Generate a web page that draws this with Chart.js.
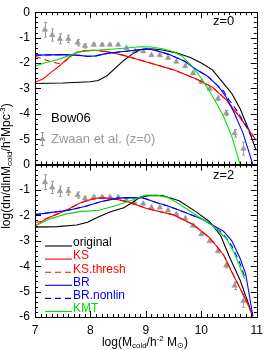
<!DOCTYPE html>
<html>
<head>
<meta charset="utf-8">
<script src="https://cdn.jsdelivr.net/npm/chart.js@4/dist/chart.umd.min.js"></script>
<style>
  html, body { margin: 0; padding: 0; background: #fff; }
  #himf { display: block; }
</style>
</head>
<body>
<canvas id="himf" width="269" height="350"></canvas>
<script>
'use strict';

// Zwaan et al. (2005) HIMF, same points shown in both panels
const zwaanLogM = [7.18, 7.31, 7.45, 7.60, 7.77, 7.90, 8.06, 8.21, 8.35, 8.50, 8.65, 8.80, 8.95,
    9.10, 9.25, 9.40, 9.55, 9.71, 9.85, 10.00, 10.15, 10.30, 10.45, 10.60, 10.76];
const zwaanLogPhi = [-0.69, -0.90, -1.05, -1.05, -1.20, -1.33, -1.28, -1.28, -1.28, -1.28, -1.41, -1.53, -1.54,
    -1.69, -1.69, -1.80, -1.95, -2.12, -2.40, -2.74, -3.01, -3.40, -3.97, -4.77, -5.37];
const zwaanErr = [0.29, 0.24, 0.20, 0.15, 0.12, 0.08, 0.05, 0.05, 0.04, 0.04, 0.04, 0.04, 0.04,
    0.04, 0.04, 0.04, 0.04, 0.05, 0.05, 0.05, 0.06, 0.07, 0.10, 0.15, 0.25];

// z=0 model curves [logM, log phi]
const z0Original = [[7.0, -2.81], [7.5, -2.79], [8.0, -2.74], [8.14, -2.69], [8.3, -2.5], [8.45, -2.2], [8.6, -1.9],
    [8.75, -1.65], [8.9, -1.48], [9.1, -1.44], [9.3, -1.49], [9.55, -1.6], [9.8, -1.78], [10.0, -2.0], [10.2, -2.27],
    [10.4, -2.8], [10.55, -3.2], [10.7, -3.8], [10.85, -4.6], [10.99, -5.45]];
const z0KS = [[7.0, -2.76], [7.15, -2.62], [7.3, -2.35], [7.45, -2.1], [7.6, -1.8], [7.75, -1.58], [7.9, -1.52],
    [8.05, -1.5], [8.3, -1.55], [8.6, -1.7], [9.0, -1.95], [9.5, -2.27], [9.9, -2.62], [10.2, -2.95], [10.45, -3.45],
    [10.7, -4.15], [10.99, -5.05]];
const z0KSThresh = [[7.0, -1.73], [7.15, -1.85], [7.3, -1.96], [7.45, -2.03], [7.55, -1.92], [7.62, -1.76],
    [7.75, -1.58], [7.9, -1.52], [8.05, -1.5], [8.3, -1.55], [8.6, -1.7], [9.0, -1.95], [9.5, -2.27], [9.9, -2.62],
    [10.2, -2.95], [10.45, -3.45], [10.7, -4.15], [10.99, -5.05]];
const z0BR = [[7.0, -1.69], [7.5, -1.67], [7.8, -1.7], [7.95, -1.74], [8.1, -1.72], [8.3, -1.62], [8.55, -1.56],
    [8.8, -1.5], [9.0, -1.44], [9.2, -1.52], [9.4, -1.65], [9.7, -1.93], [9.9, -2.25], [10.1, -2.5], [10.3, -2.9],
    [10.45, -3.35], [10.6, -4.0], [10.75, -4.75], [10.93, -6.0]];
const z0BRNonlin = [[7.0, -1.69], [7.5, -1.67], [7.8, -1.7], [7.95, -1.74], [8.1, -1.72], [8.3, -1.62], [8.55, -1.56],
    [8.8, -1.5], [9.0, -1.44], [9.2, -1.52], [9.4, -1.65], [9.7, -1.93], [9.9, -2.25], [10.1, -2.5], [10.25, -2.8],
    [10.4, -3.1], [10.5, -3.45], [10.65, -3.9], [10.8, -4.45], [10.95, -5.1]];
const z0KMT = [[7.0, -2.12], [7.2, -1.98], [7.4, -1.87], [7.6, -1.72], [7.8, -1.57], [8.0, -1.52], [8.3, -1.47],
    [8.6, -1.42], [8.9, -1.36], [9.1, -1.37], [9.3, -1.44], [9.5, -1.56], [9.65, -1.72], [9.8, -2.05], [10.0, -2.6],
    [10.2, -3.3], [10.4, -4.1], [10.55, -4.9], [10.7, -6.0]];

// z=2 model curves
const z2Original = [[7.0, -2.46], [7.4, -2.44], [7.75, -2.38], [7.95, -2.27], [8.15, -2.05], [8.35, -1.87],
    [8.6, -1.7], [8.75, -1.5], [8.9, -1.28], [9.05, -1.22], [9.3, -1.22], [9.6, -1.42], [9.9, -1.85], [10.15, -2.25],
    [10.35, -2.8], [10.5, -3.6], [10.7, -4.55], [10.93, -5.97]];
const z2KS = [[7.0, -2.42], [7.2, -2.13], [7.4, -1.95], [7.6, -1.76], [7.8, -1.52], [8.0, -1.38], [8.15, -1.31],
    [8.4, -1.33], [8.7, -1.48], [9.0, -1.72], [9.5, -1.98], [9.85, -2.36], [10.15, -2.88], [10.4, -3.55],
    [10.6, -4.45], [10.8, -5.3], [10.93, -5.97]];
const z2KSThresh = [[7.0, -2.28], [7.1, -2.24], [7.2, -2.13], [7.4, -1.95], [7.6, -1.76], [7.8, -1.52],
    [8.0, -1.38], [8.15, -1.31], [8.4, -1.33], [8.7, -1.48], [9.0, -1.72], [9.5, -1.98], [9.85, -2.36],
    [10.15, -2.88], [10.4, -3.55], [10.6, -4.45], [10.8, -5.3], [10.93, -5.97]];
const z2BR = [[7.0, -1.97], [7.3, -1.88], [7.6, -1.8], [7.9, -1.65], [8.2, -1.45], [8.5, -1.32], [8.7, -1.3],
    [8.95, -1.31], [9.2, -1.5], [9.4, -1.63], [9.7, -1.88], [10.0, -2.13], [10.2, -2.38], [10.4, -2.62],
    [10.55, -3.0], [10.7, -3.7], [10.8, -4.3], [10.93, -5.97]];
const z2BRNonlin = [[7.0, -1.97], [7.3, -1.88], [7.6, -1.8], [7.9, -1.65], [8.2, -1.45], [8.5, -1.32], [8.7, -1.3],
    [8.95, -1.31], [9.2, -1.5], [9.4, -1.63], [9.7, -1.88], [10.0, -2.13], [10.2, -2.38], [10.4, -2.75],
    [10.55, -3.2], [10.7, -3.9], [10.8, -4.55]];
const z2KMT = [[7.0, -2.42], [7.25, -2.15], [7.55, -1.95], [7.8, -1.85], [8.15, -1.8], [8.45, -1.62], [8.75, -1.4],
    [9.0, -1.2], [9.2, -1.2], [9.4, -1.3], [9.6, -1.55], [9.95, -2.05], [10.2, -2.4], [10.45, -2.9], [10.6, -3.5],
    [10.78, -4.5]];

const modelNames = ['original', 'KS', 'KS.thresh', 'BR', 'BR.nonlin', 'KMT'];
const modelColors = ['#000000', '#ff0000', '#ff0000', '#0000ff', '#0000ff', '#00e000'];
const modelDashes = [[], [], [6, 4], [], [6, 4], []];
const z0Models = [z0Original, z0KS, z0KSThresh, z0BR, z0BRNonlin, z0KMT];
const z2Models = [z2Original, z2KS, z2KSThresh, z2BR, z2BRNonlin, z2KMT];

const xTicks = [7, 8, 9, 10, 11];
const yTicks = [-6, -5, -4, -3, -2, -1, 0];

const zwaanGray = '#9a9a9a';
const fontFamily = '"Liberation Sans", Arial, Helvetica, sans-serif';

function toPoints(pairs) {
    return pairs.map(p => ({ x: p[0], y: p[1] }));
}

function modelDatasets(models, axisId) {
    return models.map((m, i) => ({
        label: modelNames[i],
        data: toPoints(m),
        yAxisID: axisId,
        borderColor: modelColors[i],
        borderWidth: 1.1,
        borderDash: modelDashes[i],
        pointRadius: 0,
        fill: false,
        tension: 0,
        order: 6 - i,
    }));
}

function zwaanDataset(axisId) {
    return {
        label: 'Zwaan',
        data: zwaanLogM.map((x, i) => ({ x: x, y: zwaanLogPhi[i] })),
        yAxisID: axisId,
        showLine: false,
        pointStyle: 'triangle',
        pointRadius: 3.2,
        pointBackgroundColor: zwaanGray,
        pointBorderColor: zwaanGray,
        pointBorderWidth: 0.5,
        order: 10,
    };
}

function drawRich(ctx, parts, cx, cy) {
    let total = 0;
    for (const p of parts) {
        ctx.font = p.size + 'px ' + fontFamily;
        p.w = ctx.measureText(p.text).width;
        total += p.w;
    }
    let x = cx - total / 2;
    ctx.textAlign = 'left';
    ctx.textBaseline = 'middle';
    for (const p of parts) {
        ctx.font = p.size + 'px ' + fontFamily;
        ctx.fillText(p.text, x, cy + (p.dy || 0));
        x += p.w;
    }
}

function drawErrorBars(ctx, xScale, yScale) {
    ctx.save();
    ctx.strokeStyle = zwaanGray;
    ctx.lineWidth = 1;
    for (let i = 0; i < zwaanLogM.length; i++) {
        const px = Math.round(xScale.getPixelForValue(zwaanLogM[i])) + 0.5;
        const y1 = yScale.getPixelForValue(zwaanLogPhi[i] + zwaanErr[i]);
        const y2 = yScale.getPixelForValue(zwaanLogPhi[i] - zwaanErr[i]);
        ctx.beginPath();
        ctx.moveTo(px, y1);
        ctx.lineTo(px, y2);
        ctx.moveTo(px - 1.5, y1);
        ctx.lineTo(px + 1.5, y1);
        ctx.moveTo(px - 1.5, y2);
        ctx.lineTo(px + 1.5, y2);
        ctx.stroke();
    }
    ctx.restore();
}

function drawPanelFrame(ctx, xScale, yScale) {
    const left = xScale.left, right = xScale.right;
    const top = yScale.top, bottom = yScale.bottom;
    ctx.save();
    ctx.strokeStyle = '#000';
    ctx.lineWidth = 1;
    ctx.strokeRect(Math.round(left) + 0.5, Math.round(top) + 0.5,
        Math.round(right - left), Math.round(bottom - top));
    ctx.beginPath();
    for (let i = 0; i <= 30; i++) {
        const v = -6 + i * 0.2;
        const major = i % 5 === 0;
        const len = major ? 6 : 3;
        const py = Math.round(yScale.getPixelForValue(v)) + 0.5;
        ctx.moveTo(left, py);
        ctx.lineTo(left + len, py);
        ctx.moveTo(right, py);
        ctx.lineTo(right - len, py);
    }
    for (let i = 0; i <= 40; i++) {
        const v = 7 + i * 0.1;
        const major = i % 10 === 0;
        const len = major ? 6 : 3;
        const px = Math.round(xScale.getPixelForValue(v)) + 0.5;
        ctx.moveTo(px, bottom);
        ctx.lineTo(px, bottom - len);
        ctx.moveTo(px, top);
        ctx.lineTo(px, top + len);
    }
    ctx.stroke();
    ctx.restore();
}

const panelDecor = {
    id: 'panelDecor',
    beforeDatasetsDraw(chart) {
        const ctx = chart.ctx;
        drawErrorBars(ctx, chart.scales.x, chart.scales.yTop);
        drawErrorBars(ctx, chart.scales.x, chart.scales.yBot);
    },
    afterDraw(chart) {
        const ctx = chart.ctx;
        const xs = chart.scales.x;
        const yTop = chart.scales.yTop;
        const yBot = chart.scales.yBot;
        drawPanelFrame(ctx, xs, yTop);
        drawPanelFrame(ctx, xs, yBot);

        ctx.save();
        ctx.fillStyle = '#000';
        ctx.textBaseline = 'middle';
        ctx.textAlign = 'left';
        ctx.font = '13px ' + fontFamily;
        ctx.fillText('z=0', 213, 21);
        ctx.fillText('z=2', 213, 175);
        ctx.fillText('Bow06', 51, 118);

        // Zwaan legend entry
        ctx.fillStyle = zwaanGray;
        ctx.fillText('Zwaan et al. (z=0)', 51, 139);
        ctx.strokeStyle = zwaanGray;
        ctx.beginPath();
        ctx.moveTo(42.5, 132);
        ctx.lineTo(42.5, 146);
        ctx.moveTo(41, 132.5);
        ctx.lineTo(44, 132.5);
        ctx.moveTo(41, 145.5);
        ctx.lineTo(44, 145.5);
        ctx.stroke();
        ctx.beginPath();
        ctx.moveTo(42.5, 135.5);
        ctx.lineTo(45.5, 141);
        ctx.lineTo(39.5, 141);
        ctx.closePath();
        ctx.fill();

        // model legend in lower panel
        ctx.font = '12px ' + fontFamily;
        for (let i = 0; i < modelNames.length; i++) {
            const ly = 246 + i * 13.1;
            ctx.strokeStyle = modelColors[i];
            ctx.fillStyle = modelColors[i];
            ctx.lineWidth = 1.1;
            ctx.setLineDash(modelDashes[i]);
            ctx.beginPath();
            ctx.moveTo(45, ly);
            ctx.lineTo(72, ly);
            ctx.stroke();
            ctx.setLineDash([]);
            ctx.fillText(modelNames[i], 73, ly - 3);
        }

        // axis titles
        ctx.fillStyle = '#000';
        drawRich(ctx, [
            { text: 'log(M', size: 12 },
            { text: 'cold', size: 8, dy: 3 },
            { text: '/h', size: 12 },
            { text: '-2', size: 8, dy: -4 },
            { text: ' M', size: 12 },
            { text: '\u2299', size: 8, dy: 3 },
            { text: ')', size: 12 },
        ], 145, 343);

        ctx.translate(7, 166);
        ctx.rotate(-Math.PI / 2);
        drawRich(ctx, [
            { text: 'log(dn/dlnM', size: 12 },
            { text: 'cold', size: 8, dy: 3 },
            { text: '/h', size: 12 },
            { text: '3', size: 8, dy: -4 },
            { text: 'Mpc', size: 12 },
            { text: '-3', size: 8, dy: -4 },
            { text: ')', size: 12 },
        ], 0, 0);
        ctx.restore();
    },
};

function yAxis(weight, hideBottom) {
    return {
        type: 'linear',
        position: 'left',
        stack: 'panels',
        weight: weight,
        min: -6,
        max: 0,
        grid: { display: false, drawTicks: false },
        border: { display: false },
        afterBuildTicks: scale => {
            scale.ticks = yTicks.filter(v => !(hideBottom && v === -6)).map(v => ({ value: v }));
        },
        ticks: {
            autoSkip: false,
            padding: 5,
            color: '#000',
            font: { family: fontFamily, size: 12 },
            callback: v => String(v),
        },
        afterFit: scale => { scale.width = 35; },
    };
}

const chart = new Chart(document.getElementById('himf'), {
    type: 'line',
    data: {
        datasets: [
            ...modelDatasets(z0Models, 'yTop'),
            ...modelDatasets(z2Models, 'yBot'),
            zwaanDataset('yTop'),
            zwaanDataset('yBot'),
        ],
    },
    options: {
        responsive: false,
        animation: false,
        devicePixelRatio: 1,
        layout: { padding: { top: 6, right: 12, left: 0, bottom: 0 } },
        scales: {
            x: {
                type: 'linear',
                min: 7,
                max: 11,
                grid: { display: false, drawTicks: false },
                border: { display: false },
                afterBuildTicks: scale => {
                    scale.ticks = xTicks.map(v => ({ value: v }));
                },
                ticks: {
                    autoSkip: false,
                    padding: 6,
                    color: '#000',
                    font: { family: fontFamily, size: 12 },
                    maxRotation: 0,
                    callback: v => String(v),
                },
                afterFit: scale => { scale.height = 33; },
            },
            yTop: yAxis(2, true),
            yBot: yAxis(1, false),
        },
        plugins: {
            legend: { display: false },
            tooltip: { enabled: false },
        },
    },
    plugins: [panelDecor],
});
</script>
</body>
</html>
